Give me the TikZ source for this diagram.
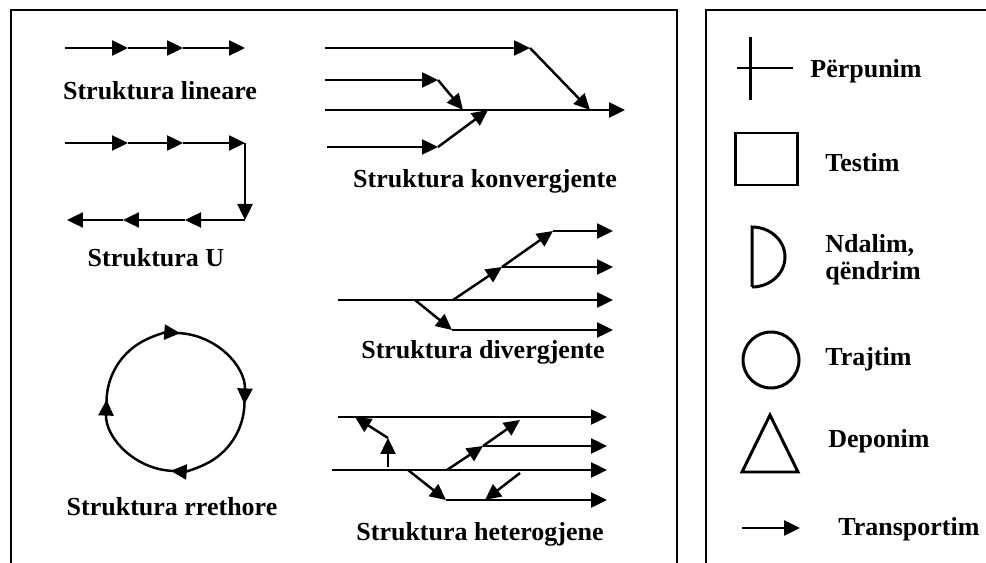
\documentclass[tikz,border=0pt]{standalone}
\usepackage{fontspec}
\setmainfont{Liberation Serif}
\usetikzlibrary{arrows.meta}

\tikzset{
  flow/.style={-{Triangle[length=0.32cm,width=0.3cm]}, line width=1.4pt},
  frame/.style={line width=1.3pt},
  sym/.style={line width=1.7pt},
  lbl/.style={font=\bfseries\fontsize{14.8}{17}\selectfont, inner sep=0pt, anchor=base},
  key/.style={lbl, anchor=base west},
}

\begin{document}
\begin{tikzpicture}[x=0.02cm, y=-0.02cm]
  \useasboundingbox (0,0) rectangle (986,563);
  % two open frames
  \draw[frame] (11,563) |- (677,10) -- (677,563);
  \draw[frame] (706,563) |- (986,10);

  % linear
  \coordinate (l0) at (65,48);  \coordinate (l1) at (128,48);
  \coordinate (l2) at (183,48); \coordinate (l3) at (245,48);
  \foreach \a/\b in {l0/l1, l1/l2, l2/l3} \draw[flow] (\a) -- (\b);
  \node[lbl] (lin) at (160,100) {Struktura lineare};

  % U shape
  \coordinate (u0) at (65,143);  \coordinate (u1) at (128,143);
  \coordinate (u2) at (183,143); \coordinate (u3) at (245,143);
  \coordinate (u4) at (245,220); \coordinate (u5) at (185,220);
  \coordinate (u6) at (123,220); \coordinate (u7) at (67,220);
  \foreach \a/\b in {u0/u1, u1/u2, u2/u3, u3/u4, u4/u5, u5/u6, u6/u7} \draw[flow] (\a) -- (\b);
  \node[lbl] (ushape) at (156,267) {Struktura U};

  % circular
  \coordinate (rc) at (175.5,402);
  \foreach \a/\b in {180/86, 88/-2, 0/-94, -92/-182}
    \draw[flow] ([shift={(\a:1.38cm)}]rc) arc[start angle=\a, end angle=\b, radius=1.38cm];
  \node[lbl] (rreth) at (172,515) {Struktura rrethore};

  % convergent
  \coordinate (c1a) at (325,48);  \coordinate (c1b) at (530,48);
  \coordinate (c2a) at (325,80);  \coordinate (c2b) at (438,80);
  \coordinate (m0) at (325,110);  \coordinate (m1) at (625,110);
  \coordinate (c4a) at (327,147); \coordinate (c4b) at (438,147);
  \coordinate (mA) at (590,110);  \coordinate (mB) at (463,110);
  \coordinate (mC) at (488,110);
  \foreach \a/\b in {c1a/c1b, c1b/mA, c2a/c2b, c2b/mB, m0/m1, c4a/c4b, c4b/mC} \draw[flow] (\a) -- (\b);
  \node[lbl] (konv) at (485,188) {Struktura konvergjente};

  % divergent
  \coordinate (d0) at (338,300); \coordinate (d1) at (613,300);
  \coordinate (dA) at (453,300); \coordinate (dB) at (502,267);
  \coordinate (dC) at (553,231); \coordinate (dD) at (613,231);
  \coordinate (dE) at (613,267); \coordinate (dF) at (415,300);
  \coordinate (dG) at (452,330); \coordinate (dH) at (613,330);
  \foreach \a/\b in {d0/d1, dA/dB, dB/dC, dC/dD, dB/dE, dF/dG, dG/dH} \draw[flow] (\a) -- (\b);
  \node[lbl] (diverg) at (483,358) {Struktura divergjente};

  % heterogeneous
  \coordinate (hA0) at (338,417); \coordinate (hA1) at (607,417);
  \coordinate (hB0) at (483,446); \coordinate (hB1) at (607,446);
  \coordinate (hC0) at (332,470); \coordinate (hC1) at (607,470);
  \coordinate (hD0) at (446,500); \coordinate (hD1) at (607,500);
  \coordinate (hV0) at (388,467); \coordinate (hV1) at (388,438);
  \coordinate (hL) at (355,417);
  \coordinate (hE) at (447,470);  \coordinate (hF) at (520,420);
  \coordinate (hG) at (408,470);
  \coordinate (hH) at (520,473);  \coordinate (hI) at (485,500);
  \foreach \a/\b in {hA0/hA1, hB0/hB1, hC0/hC1, hD0/hD1, hV0/hV1, hV1/hL, hE/hB0, hB0/hF, hG/hD0, hH/hI}
    \draw[flow] (\a) -- (\b);
  \node[lbl] (heter) at (480,540) {Struktura heterogjene};

  % legend symbols
  \draw[sym] (750,37) -- (750,100);
  \draw[sym] (737,68) -- (793,68);
  \node[key] (perp) at (810,78) {Përpunim};

  \draw[sym] (735,133) rectangle (797,185);
  \node[key] (test) at (825,172) {Testim};

  \draw[sym] (752,287) -- (752,227) arc[start angle=90, end angle=-90, x radius=0.66cm, y radius=0.6cm];
  \node[key] (ndal) at (825,253) {Ndalim,};
  \node[key] (qend) at (825,280) {qëndrim};

  \draw[sym] (771,360) circle[radius=0.56cm];
  \node[key] (trajt) at (825,366) {Trajtim};

  \draw[sym] (770,415) -- (798,472) -- (742,472) -- cycle;
  \node[key] (depo) at (828,447) {Deponim};

  \coordinate (t0) at (742,528); \coordinate (t1) at (800,528);
  \draw[flow] (t0) -- (t1);
  \node[key] (transp) at (838,535) {Transportim};
\end{tikzpicture}
\end{document}
